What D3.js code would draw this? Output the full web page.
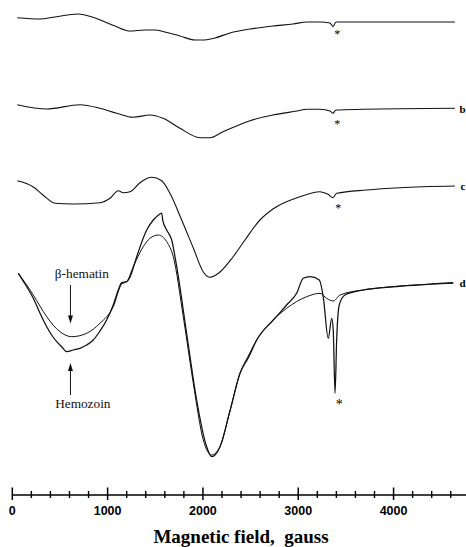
<!DOCTYPE html>
<html>
<head>
<meta charset="utf-8">
<script src="https://cdn.jsdelivr.net/npm/d3@7"></script>
<style>
  html, body { margin: 0; padding: 0; background: #fff; }
  svg { display: block; }
  text.pre { white-space: pre; }
</style>
</head>
<body>
<svg id="chart" width="466" height="547"></svg>
<script>
// ---- data (field in gauss, signal in arbitrary units) ----
const fieldTicksMajor = [0, 1000, 2000, 3000, 4000];
const fieldTicksMinor = d3.range(0, 4700, 200);
const axisTitle = "Magnetic field,\u00a0\u00a0gauss";

// vertical offsets of the stacked spectra (arbitrary units)
const traceOffsets = [525, 438.5, 361, 264];
const traceLabels = ["a", "b", "c", "d"];

const traceA = [[52,4.3],[291,3],[448,5],[689,8],[868,4],[1077,-4],[1235,-9],[1392,-8],[1497,-8],[1602,-10],[1759,-14],[1917,-18],[2021,-18],[2126,-16],[2284,-11],[2494,-7],[2735,-4],[2945,-2],[3092,0],[3228,0],[3333,-1],[3364,-4.5],[3396,0],[4644,0]];

const traceB = [[52,3.8],[361,-0.5],[710,3.8],[920,0.2],[1095,-4.8],[1269,-8.8],[1444,-6.5],[1581,-9.8],[1759,-19.8],[1969,-29.2],[2074,-29.2],[2210,-23.2],[2378,-16.5],[2494,-12.2],[2735,-6.5],[2987,-2.5],[3092,-0.8],[3228,-0.8],[3333,-2.5],[3364,-4.8],[3396,-1.5],[3679,-0.8],[4644,0.2]];

const traceC = [[52,5.3],[217,-0.7],[322,-9],[448,-17.3],[637,-18],[920,-16.7],[1025,-12.3],[1112,-4.7],[1164,-6.7],[1235,-5.7],[1340,3.3],[1462,8.7],[1567,5.3],[1654,-7.3],[1777,-34],[1899,-62],[2004,-86],[2074,-91.3],[2179,-86],[2315,-71],[2441,-54],[2598,-34],[2735,-23],[3018,-10.7],[3228,-5.7],[3312,-8.3],[3364,-11.7],[3403,-7.3],[3718,-4],[4067,-1.7],[4644,0]];

const hemozoin = [[63,9.7],[140,-2],[220,-15.3],[290,-30],[361,-43.7],[420,-53],[466,-58.7],[520,-64],[571,-68.7],[640,-67],[710,-65.3],[780,-62],[850,-57],[920,-48],[990,-37],[1059,-22],[1112,-7],[1148,0.3],[1200,1.3],[1235,6],[1305,26.3],[1410,53],[1479,63],[1549,69],[1567,70],[1580,62],[1620,53],[1672,43],[1725,16.3],[1829,-50.3],[1934,-117],[2039,-163.7],[2092,-173.7],[2179,-163.7],[2286,-127],[2389,-90.3],[2481,-74],[2564,-57],[2738,-37],[2878,-22],[2983,-10.3],[3053,4.7],[3123,6.3],[3221,3],[3262,-13.7],[3315,-55.3],[3351,-35.3],[3367,-47],[3386,-110.3],[3403,-57],[3430,-22],[3490,-12],[3682,-7],[4032,-3.7],[4626,0.3]];

const betaHematin = [[63,9.7],[140,-0.5],[220,-12],[290,-23],[361,-33.7],[500,-48.7],[623,-53.7],[780,-50.3],[920,-40.3],[1059,-23.7],[1148,-1],[1200,1.3],[1269,16.3],[1374,36.3],[1444,44.7],[1532,48],[1620,41.3],[1689,26.3],[1794,-33.7],[1899,-100.3],[2004,-157],[2092,-172],[2179,-163.7],[2286,-127],[2389,-90.3],[2481,-72],[2564,-57],[2738,-37],[2878,-25.3],[3088,-13.7],[3228,-10.3],[3298,-15.3],[3368,-18],[3438,-12],[3682,-7],[4626,-0.3]];

// ---- scales ----
const svg = d3.select("#chart");
const W = 466, H = 547;
const x = d3.scaleLinear().domain([0, 4760]).range([12.3, 466]);
const y = d3.scaleLinear().domain([0, 547]).range([547, 0]);

const line = off => d3.line()
  .x(d => x(d[0]))
  .y(d => y(d[1] + off))
  .curve(d3.curveMonotoneX);

const g = svg.append("g");
const traces = [
  {data: traceA, off: traceOffsets[0], w: 1.1},
  {data: traceB, off: traceOffsets[1], w: 1.1},
  {data: traceC, off: traceOffsets[2], w: 1.1},
  {data: betaHematin, off: traceOffsets[3], w: 1.0},
  {data: hemozoin, off: traceOffsets[3], w: 1.25}
];
traces.forEach(t => {
  g.append("path").attr("d", line(t.off)(t.data))
    .attr("fill", "none").attr("stroke", "#111")
    .attr("stroke-width", t.w).attr("stroke-linejoin", "round");
});

const serif = "Liberation Serif, Times New Roman, serif";

// asterisks
const starPos = [
  {f: 3410, s: -10.3, off: traceOffsets[0], fs: 12},
  {f: 3410, s: -13.2, off: traceOffsets[1], fs: 12},
  {f: 3420, s: -20,   off: traceOffsets[2], fs: 12},
  {f: 3430, s: -119.3, off: traceOffsets[3], fs: 14}
];
starPos.forEach(p => {
  g.append("text").attr("x", x(p.f)).attr("y", y(p.s + p.off) + p.fs * 0.5)
    .attr("text-anchor", "middle")
    .attr("font-family", serif)
    .attr("font-size", p.fs).attr("fill", "#000").text("*");
});

// right-edge trace labels
[1, 2, 3].forEach(i => {
  g.append("text").attr("x", 465.5).attr("y", y(traceOffsets[i]) + 4)
    .attr("text-anchor", "end")
    .attr("font-family", serif)
    .attr("font-size", 11).attr("font-weight", "bold").attr("fill", "#000")
    .text(traceLabels[i]);
});

// annotations
g.append("text").attr("x", x(730)).attr("y", y(traceOffsets[3] + 4.7))
  .attr("text-anchor", "middle").attr("font-family", serif)
  .attr("font-size", 13.3).attr("fill", "#111").text("β-hematin");
g.append("text").attr("x", x(740)).attr("y", y(traceOffsets[3] - 125))
  .attr("text-anchor", "middle").attr("font-family", serif)
  .attr("font-size", 13.3).attr("fill", "#111").text("Hemozoin");

function arrow(fx, s1, s2) {
  const x0 = x(fx), y1 = y(s1 + traceOffsets[3]), y2 = y(s2 + traceOffsets[3]);
  const dir = y2 > y1 ? 1 : -1;
  g.append("line").attr("x1", x0).attr("x2", x0).attr("y1", y1).attr("y2", y2 - dir * 6)
    .attr("stroke", "#111").attr("stroke-width", 1);
  g.append("path")
    .attr("d", `M${x0},${y2} L${x0 - 2.5},${y2 - dir * 8} L${x0 + 2.5},${y2 - dir * 8} Z`)
    .attr("fill", "#111");
}
arrow(610, -2, -40.5);
arrow(610, -112, -80);

// axis
const axisY = 495;
const ax = svg.append("g");
ax.append("line").attr("x1", x(0)).attr("x2", W).attr("y1", axisY).attr("y2", axisY)
  .attr("stroke", "#000").attr("stroke-width", 1.6);
ax.selectAll("line.minor").data(fieldTicksMinor.filter(v => v % 1000 !== 0)).enter()
  .append("line").attr("class", "minor")
  .attr("x1", d => x(d)).attr("x2", d => x(d))
  .attr("y1", axisY - 4).attr("y2", axisY + 3)
  .attr("stroke", "#000").attr("stroke-width", 1.4);
ax.selectAll("line.major").data(fieldTicksMajor).enter()
  .append("line").attr("class", "major")
  .attr("x1", d => x(d)).attr("x2", d => x(d))
  .attr("y1", axisY - 7.5).attr("y2", axisY + 5)
  .attr("stroke", "#000").attr("stroke-width", 1.5);
ax.selectAll("text.tl").data(fieldTicksMajor).enter()
  .append("text").attr("class", "tl")
  .attr("x", d => x(d)).attr("y", axisY + 20)
  .attr("text-anchor", "middle")
  .attr("font-family", "Liberation Sans, Arial, sans-serif")
  .attr("font-weight", "bold").attr("font-size", 12.5).attr("fill", "#000")
  .text(d => d);
ax.append("text").attr("class", "pre").attr("x", 241).attr("y", 543)
  .attr("text-anchor", "middle").attr("font-family", serif)
  .attr("font-weight", "bold").attr("font-size", 19).attr("fill", "#000")
  .text(axisTitle);
</script>
</body>
</html>
